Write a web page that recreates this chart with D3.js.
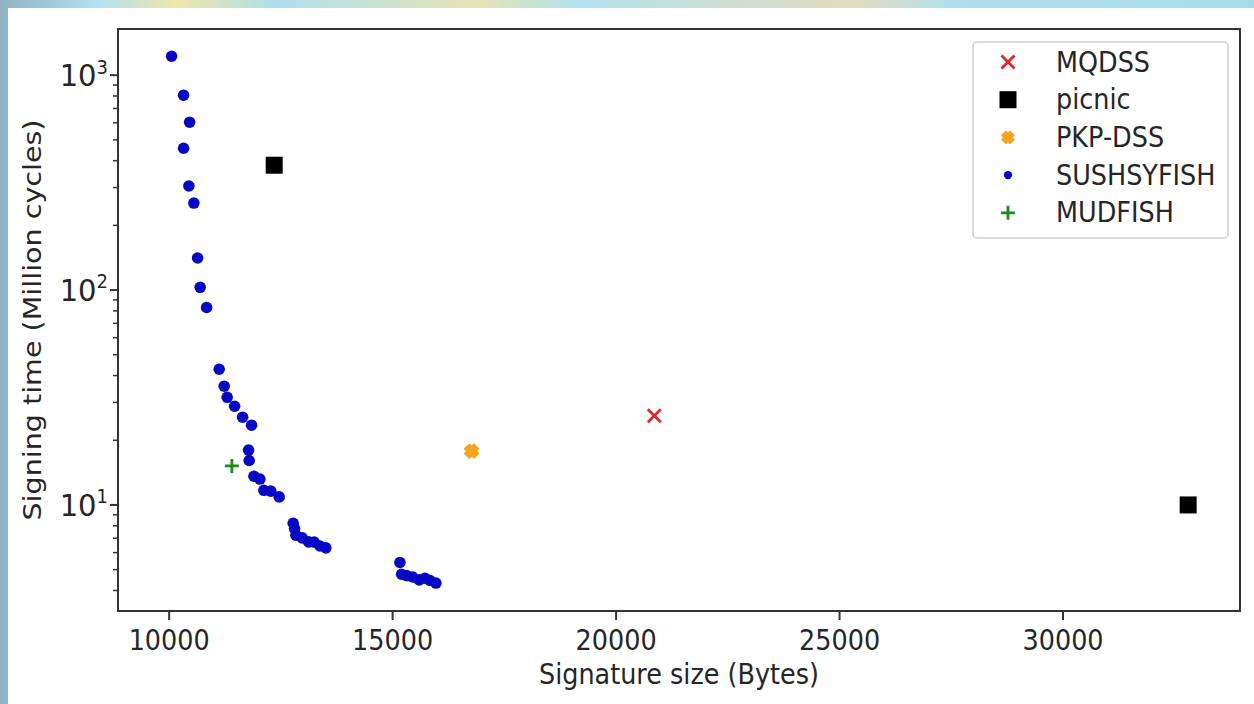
<!DOCTYPE html>
<html>
<head>
<meta charset="utf-8">
<script src="https://cdn.jsdelivr.net/npm/d3@7"></script>
<style>
  body { margin: 0; background: #fff; }
  text { font-family: "DejaVu Sans", sans-serif; fill: #262626; }
</style>
</head>
<body>
<div id="chart1"></div>
<script>

// series (bytes, million cycles)
const sushX = [10054, 10322, 10457, 10322, 10441, 10553, 10636, 10694, 10837,
               11119, 11231, 11298, 11464, 11643, 11844, 11777, 11790, 11896, 12030,
               12119, 12276, 12462, 12775, 12806, 12836, 12977, 13120, 13245, 13373,
               13507, 15163, 15201, 15313, 15447, 15595, 15723, 15835, 15969];
const sushY = [1225, 807, 604, 457, 305, 254, 141, 103, 83,
               42.8, 35.7, 31.7, 28.8, 25.6, 23.5, 18.0, 16.1, 13.6, 13.2,
               11.7, 11.6, 10.9, 8.22, 7.76, 7.23, 7.03, 6.73, 6.72, 6.44,
               6.31, 5.40, 4.76, 4.69, 4.62, 4.48, 4.56, 4.45, 4.33];
const picnicX = [12350, 32800];
const picnicY = [381, 10.0];
const mqdssX = [20855];
const mqdssY = [26.0];
const pkpX = [16768];
const pkpY = [17.8];
const mudX = [11403];
const mudY = [15.2];

const xTicks = [10000, 15000, 20000, 25000, 30000];
const yTicks = [10, 100, 1000];
const legendNames = ["MQDSS", "picnic", "PKP-DSS", "SUSHSYFISH", "MUDFISH"];

const width = 1254;
const height = 704;
const margin = {top: 29, right: 14, bottom: 93, left: 118};
const fs = 25.5;    // font size
const sy = 1.12;    // the screenshot is a bit stretched vertically

const svg = d3.select("#chart1").append("svg")
    .attr("width", width)
    .attr("height", height);

// decorative backdrop around the figure
const defs = svg.append("defs");
const grad = defs.append("linearGradient").attr("id", "bg").attr("x1", 0).attr("x2", 1);
[["0%", "#8fb3c2"], ["8%", "#b3e2ee"], ["14%", "#efe6a8"], ["22%", "#aee0ec"],
 ["38%", "#e6e4b6"], ["46%", "#b1e1ec"], ["68%", "#e4dcc0"], ["76%", "#b0e0ec"], ["100%", "#a6dbe8"]].forEach(s =>
  grad.append("stop").attr("offset", s[0]).attr("stop-color", s[1]));
svg.append("rect").attr("width", width).attr("height", height).attr("fill", "url(#bg)");
svg.append("rect").attr("x", 8).attr("y", 8)
    .attr("width", width - 8).attr("height", height - 8).attr("fill", "#fff");

const x = d3.scaleLinear()
    .domain([8855, 33960])
    .range([margin.left, width - margin.right]);
const y = d3.scaleLog()
    .domain([3.21, 1640])
    .range([height - margin.bottom, margin.top]);

const [x0, x1] = x.range();
const [y0, y1] = y.range();

// minor log ticks
const minor = [];
for (let d = 1; d <= 100; d *= 10)
  for (let k = 2; k <= 9; k++) {
    const v = k * d;
    if (v >= y.domain()[0] && v <= y.domain()[1]) minor.push(v);
  }

const axisCol = "#333";

// x axis
const gx = svg.append("g");
gx.selectAll("line").data(xTicks).join("line")
    .attr("x1", d => x(d)).attr("x2", d => x(d))
    .attr("y1", y0).attr("y2", y0 + 9)
    .attr("stroke", axisCol).attr("stroke-width", 2);
gx.selectAll("g").data(xTicks).join("g")
    .attr("transform", d => `translate(${x(d)},${y0 + 39}) scale(1,${sy})`)
  .append("text")
    .attr("text-anchor", "middle")
    .attr("font-size", fs)
    .text(d => d);

// y axis
const gy = svg.append("g");
gy.selectAll("line.maj").data(yTicks).join("line").attr("class", "maj")
    .attr("x1", x0 - 8).attr("x2", x0)
    .attr("y1", d => y(d)).attr("y2", d => y(d))
    .attr("stroke", axisCol).attr("stroke-width", 2);
gy.selectAll("line.min").data(minor).join("line").attr("class", "min")
    .attr("x1", x0 - 5).attr("x2", x0)
    .attr("y1", d => y(d)).attr("y2", d => y(d))
    .attr("stroke", axisCol).attr("stroke-width", 1.5);
const yl = gy.selectAll("g").data(yTicks).join("g")
    .attr("transform", d => `translate(${x0 - 10},${y(d) + 11}) scale(1,1.05)`)
  .append("text")
    .attr("text-anchor", "end")
    .attr("font-size", 29);
yl.append("tspan").text("10");
yl.append("tspan").attr("dy", -12).attr("font-size", 18)
    .text(d => Math.round(Math.log10(d)));

// frame
svg.append("rect")
    .attr("x", x0).attr("y", y1)
    .attr("width", x1 - x0).attr("height", y0 - y1)
    .attr("fill", "none").attr("stroke", axisCol).attr("stroke-width", 2);

// axis titles
svg.append("g")
    .attr("transform", `translate(${(x0 + x1) / 2},${y0 + 73}) scale(1,${sy})`)
  .append("text")
    .attr("text-anchor", "middle").attr("font-size", fs)
    .text("Signature size (Bytes)");
svg.append("g")
    .attr("transform", `translate(41,${(y0 + y1) / 2}) rotate(-90) scale(${sy},1)`)
  .append("text")
    .attr("text-anchor", "middle").attr("font-size", fs)
    .text("Signing time (Million cycles)");

// marker painters
const colors = {mqdss: "#e0262a", picnic: "#000", pkp: "#f4a41e", sush: "#0808c4", mud: "#1f8a1f"};
function drawX(g, s) {
  g.append("path").attr("d", `M${-s},${-s}L${s},${s}M${-s},${s}L${s},${-s}`)
    .attr("stroke", colors.mqdss).attr("stroke-width", 2.8).attr("fill", "none");
}
function drawSquare(g, s) {
  g.append("rect").attr("x", -s).attr("y", -s).attr("width", 2 * s).attr("height", 2 * s)
    .attr("fill", colors.picnic);
}
function drawFilledX(g, s) {
  // fat filled "X": plus shape rotated 45deg
  const w = s * 0.5, L = s * 1.41 - w;
  const pts = [[-w, -L], [w, -L], [w, -w], [L, -w], [L, w], [w, w], [w, L], [-w, L],
               [-w, w], [-L, w], [-L, -w], [-w, -w]];
  g.append("path").attr("d", d3.line()(pts) + "Z")
    .attr("transform", "rotate(45)").attr("fill", colors.pkp);
}
function drawDot(g, r) {
  g.append("circle").attr("r", r).attr("fill", colors.sush);
}
function drawPlus(g, s) {
  g.append("path").attr("d", `M${-s},0L${s},0M0,${-s}L0,${s}`)
    .attr("stroke", colors.mud).attr("stroke-width", 2.8).attr("fill", "none");
}

const plot = svg.append("g");
function series(xs, ys, painter, s) {
  xs.forEach((v, i) => {
    const g = plot.append("g").attr("transform", `translate(${x(v)},${y(ys[i])})`);
    painter(g, s);
  });
}
series(sushX, sushY, drawDot, 5.8);
series(picnicX, picnicY, drawSquare, 8.5);
series(pkpX, pkpY, drawFilledX, 8);
series(mqdssX, mqdssY, drawX, 6.5);
series(mudX, mudY, drawPlus, 7);

// legend
const leg = svg.append("g");
leg.append("rect")
    .attr("x", 973).attr("y", 42).attr("width", 255).attr("height", 196)
    .attr("rx", 4).attr("fill", "#fff").attr("stroke", "#d0d0d0").attr("stroke-width", 1.5);
const legPainters = [[drawX, 6.5], [drawSquare, 8.5], [drawFilledX, 7], [drawDot, 4.2], [drawPlus, 7]];
legendNames.forEach((name, i) => {
  const cy = 62 + i * 37.7;
  const g = leg.append("g").attr("transform", `translate(1008,${cy})`);
  legPainters[i][0](g, legPainters[i][1]);
  leg.append("g").attr("transform", `translate(1056,${cy + 9.5}) scale(1,${sy})`)
    .append("text").attr("font-size", fs).text(name);
});

</script>
</body>
</html>
